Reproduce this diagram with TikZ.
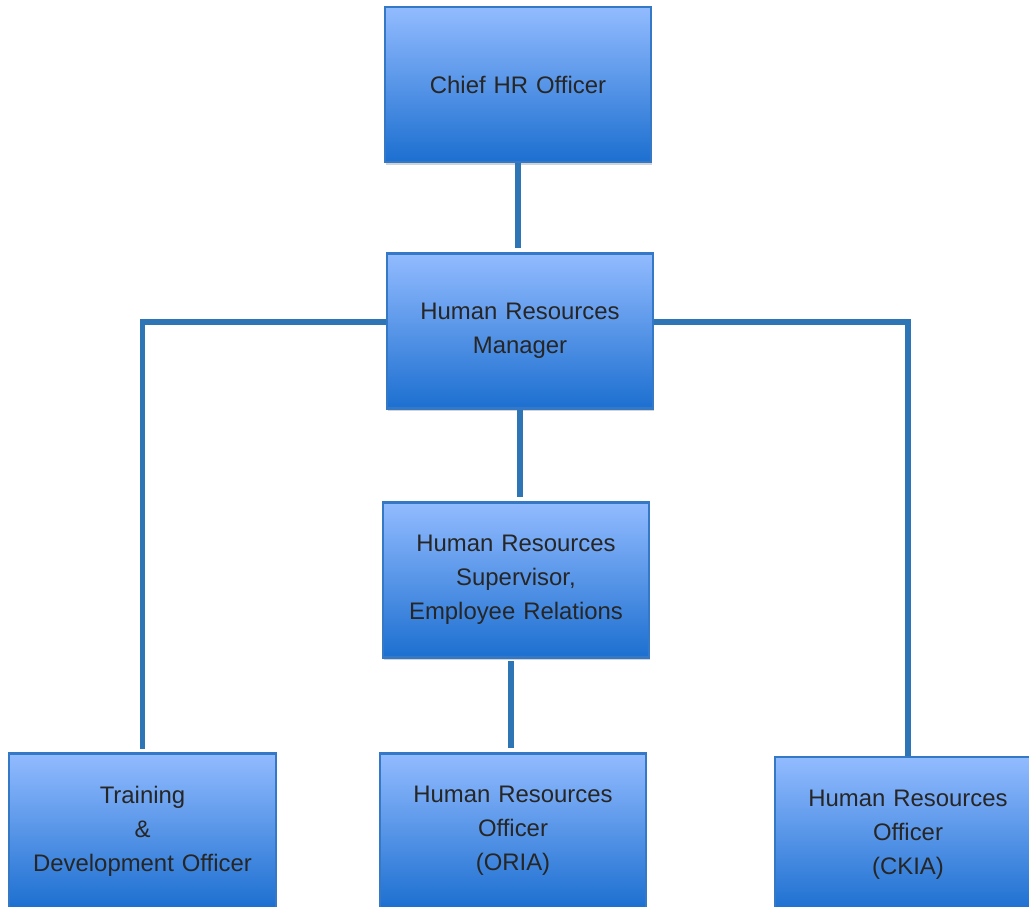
\documentclass[tikz,border=0pt]{standalone}
\usepackage{fontspec}
\setmainfont{Liberation Sans}
\usetikzlibrary{positioning,shadows}

\definecolor{boxtop}{RGB}{146,187,255}
\definecolor{boxbot}{RGB}{28,111,208}
\definecolor{boxline}{RGB}{52,120,198}
\definecolor{linkblue}{RGB}{46,117,182}
\definecolor{txtgrey}{RGB}{38,38,38}

\begin{document}
\begin{tikzpicture}[
    post/.style={draw=boxline, line width=1.2pt, top color=boxtop, bottom color=boxbot,
      minimum width=5.32cm, minimum height=3.1cm, text width=5.1cm, align=center,
      text=txtgrey, font=\fontsize{13.6}{19.3}\selectfont,
      drop shadow={shadow xshift=0.6pt, shadow yshift=-1.6pt, opacity=0.35}},
    link/.style={draw=linkblue, line width=3.4pt}
  ]

   \useasboundingbox (0,0) rectangle (20.58,-18.14);
   \clip (0,0) rectangle (20.58,-18.14);

   % posts
   \node[post] (chief) at (10.36,-1.69) {Chief HR Officer};
   \node[post] (hrm) at (10.40,-6.62) {Human Resources\\Manager};
   \node[post] (sup) at (10.32,-11.60) {Human Resources\\Supervisor,\\Employee Relations};
   \node[post] (train) at (2.85,-16.62) {Training\\\&\\Development Officer};
   \node[post] (oria) at (10.26,-16.62) {Human Resources\\Officer\\(ORIA)};
   \node[post] (ckia) at (18.16,-16.69) {Human Resources\\Officer\\(CKIA)};

   % reporting lines
   \draw[link, shorten >=2.5pt] (chief.south) -- (chief.south |- hrm.north);
   \draw[link, shorten >=2.5pt] (hrm.south) -- (hrm.south |- sup.north);
   \draw[link, shorten <=1.5pt, shorten >=2.5pt] ([xshift=-0.1cm]sup.south) -- ([xshift=-0.1cm]sup.south |- oria.north);
   \draw[link, shorten >=2pt] ([yshift=0.18cm]hrm.west) -| (train.north);
   \draw[link, shorten >=0pt] ([yshift=0.18cm]hrm.east) -| (ckia.north);

\end{tikzpicture}
\end{document}
